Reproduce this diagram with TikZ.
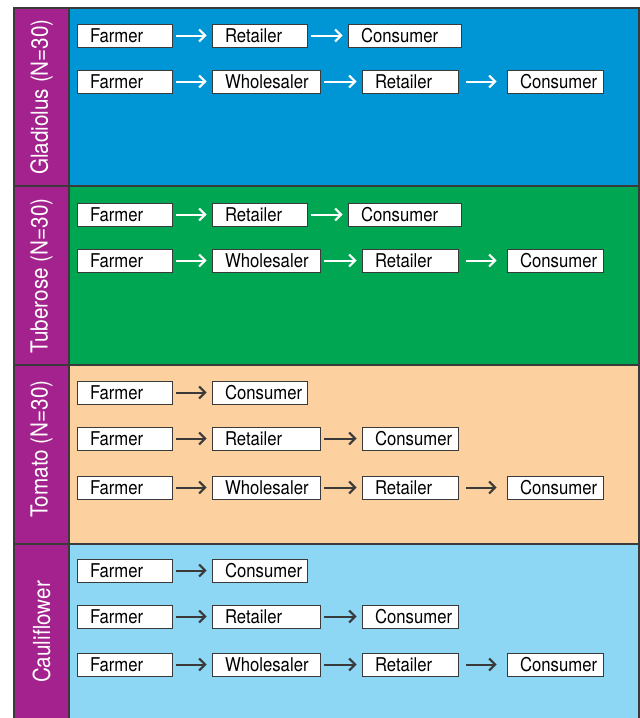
\documentclass[tikz,border=0pt]{standalone}
\usepackage{fontspec}
\setmainfont{TeX Gyre Heros}[FakeStretch=0.88]
\usetikzlibrary{arrows.meta}

\definecolor{glblue}{HTML}{0096D6}
\definecolor{tugreen}{HTML}{00A651}
\definecolor{topeach}{HTML}{FDD09F}
\definecolor{caublue}{HTML}{8DD6F4}
\definecolor{croppurple}{HTML}{A3228D}
\definecolor{rule}{HTML}{3A3A3A}

\begin{document}
\begin{tikzpicture}[x=1pt,y=-1pt,
    actor/.style={draw=rule,line width=0.9pt,fill=white,minimum height=23pt,
      inner ysep=0pt,inner xsep=13pt,align=left,font=\fontsize{19}{19}\selectfont},
    cropname/.style={rotate=90,text=white,font=\fontsize{23.5}{23.5}\selectfont},
    flow/.style={line width=2pt,-{Straight Barb[length=6pt,width=12pt,line width=2pt]},
      shorten <=4pt,shorten >=5pt},
    flowlong/.style={shorten <=8pt,shorten >=10pt},
    flowlight/.style={flow,white},
    flowdark/.style={flow,rule}]
    \useasboundingbox (0,0) rectangle (640,718);
    \newcommand\actor[5]{
      \node[actor,text width=#3pt-26pt] at (#1,#2) (#4) {#5};
    }
    % bands
    \fill[glblue] (69,8) rectangle (639,186);
    \fill[tugreen] (69,186) rectangle (639,365);
    \fill[topeach] (69,365) rectangle (639,544);
    \fill[caublue] (69,544) rectangle (639,718);
    \fill[croppurple] (14,8) rectangle (69,718);
    \draw[rule,line width=1.3pt] (14,718) -- (14,8) -- (639,8) -- (639,718);
    \draw[rule,line width=1.3pt] (69,8) -- (69,718)
      (14,186) -- (639,186) (14,365) -- (639,365) (14,544) -- (639,544);
    \node[cropname] at (41.5,97) (gla) {Gladiolus (N=30)};
    \node[cropname] at (41.5,276) (tub) {Tuberose (N=30)};
    \node[cropname] at (41.5,449) (tom) {Tomato (N=30)};
    \node[cropname] at (41.5,632) (cau) {Cauliflower};
    % Gladiolus
    \actor{124.5}{35.5}{95}{gl11}{Farmer}
    \actor{259.5}{35.5}{95}{gl12}{Retailer}
    \actor{404.5}{35.5}{113}{gl13}{Consumer}
    \actor{124.5}{81.5}{95}{gl21}{Farmer}
    \actor{266}{81.5}{108}{gl22}{Wholesaler}
    \actor{410}{81.5}{96}{gl23}{Retailer}
    \actor{555}{81.5}{96}{gl24}{Consumer}
    % Tuberose
    \actor{124.5}{214.5}{95}{tu11}{Farmer}
    \actor{259.5}{214.5}{95}{tu12}{Retailer}
    \actor{404.5}{214.5}{113}{tu13}{Consumer}
    \actor{124.5}{260.5}{95}{tu21}{Farmer}
    \actor{266}{260.5}{108}{tu22}{Wholesaler}
    \actor{410}{260.5}{96}{tu23}{Retailer}
    \actor{555}{260.5}{96}{tu24}{Consumer}
    % Tomato
    \actor{124.5}{392.5}{95}{to11}{Farmer}
    \actor{259.5}{392.5}{95}{to12}{Consumer}
    \actor{124.5}{438.5}{95}{to21}{Farmer}
    \actor{266}{438.5}{108}{to22}{Retailer}
    \actor{410}{438.5}{96}{to23}{Consumer}
    \actor{124.5}{487.5}{95}{to31}{Farmer}
    \actor{266}{487.5}{108}{to32}{Wholesaler}
    \actor{410}{487.5}{96}{to33}{Retailer}
    \actor{555}{487.5}{96}{to34}{Consumer}
    % Cauliflower
    \actor{124.5}{570.5}{95}{ca11}{Farmer}
    \actor{259.5}{570.5}{95}{ca12}{Consumer}
    \actor{124.5}{616.5}{95}{ca21}{Farmer}
    \actor{266}{616.5}{108}{ca22}{Retailer}
    \actor{410}{616.5}{96}{ca23}{Consumer}
    \actor{124.5}{664.5}{95}{ca31}{Farmer}
    \actor{266}{664.5}{108}{ca32}{Wholesaler}
    \actor{410}{664.5}{96}{ca33}{Retailer}
    \actor{555}{664.5}{96}{ca34}{Consumer}
    \draw[flowlight] (gl11) edge (gl12) (gl12) edge (gl13)
    (gl21) edge (gl22) (gl22) edge (gl23) (gl23) edge[flowlong] (gl24)
    (tu11) edge (tu12) (tu12) edge (tu13)
    (tu21) edge (tu22) (tu22) edge (tu23) (tu23) edge[flowlong] (tu24);
    \draw[flowdark] (to11) edge (to12)
    (to21) edge (to22) (to22) edge (to23)
    (to31) edge (to32) (to32) edge (to33) (to33) edge[flowlong] (to34)
    (ca11) edge (ca12)
    (ca21) edge (ca22) (ca22) edge (ca23)
    (ca31) edge (ca32) (ca32) edge (ca33) (ca33) edge[flowlong] (ca34);
  \end{tikzpicture}
\end{document}
